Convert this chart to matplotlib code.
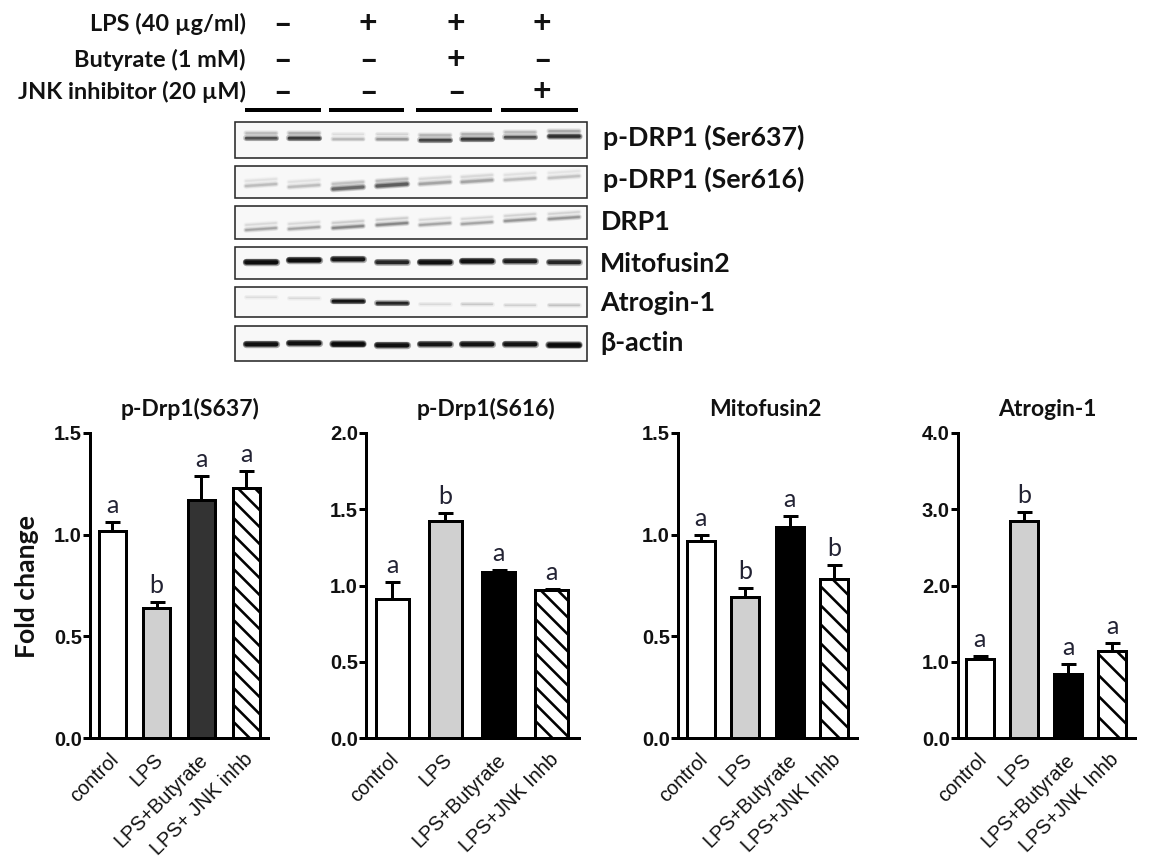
import matplotlib
matplotlib.use("Agg")
import matplotlib.pyplot as plt
from matplotlib.patches import Rectangle
from matplotlib.transforms import IdentityTransform, ScaledTranslation

W, H = 1155, 859
LABEL_FONT = "Lato"
TICK_FONT = "Liberation Sans"

# treatment table on top of the blots
treatments = ["LPS (40 µg/ml)", "Butyrate (1 mM)", "JNK inhibitor (20 µM)"]
lps_signs = ["–", "+", "+", "+"]
butyrate_signs = ["–", "–", "+", "–"]
jnk_signs = ["–", "–", "–", "+"]

# blots: band strength (0-1) and band height in the picture, per lane
blot_names = ["p-DRP1 (Ser637)", "p-DRP1 (Ser616)", "DRP1", "Mitofusin2", "Atrogin-1", "β-actin"]
ser637_bands = [0.60, 0.70, 0.25, 0.35, 0.65, 0.70, 0.60, 0.75]
ser616_bands = [0.22, 0.22, 0.50, 0.55, 0.30, 0.30, 0.22, 0.20]
drp1_bands = [0.30, 0.30, 0.40, 0.40, 0.30, 0.30, 0.35, 0.35]
mfn2_bands = [0.97, 0.97, 0.90, 0.80, 0.95, 0.95, 0.85, 0.80]
atrogin_bands = [0.10, 0.12, 0.90, 0.80, 0.12, 0.18, 0.15, 0.20]
actin_bands = [0.95, 0.95, 1.00, 0.95, 0.90, 0.92, 0.92, 1.00]
ser637_y = [138, 138, 139, 139, 140, 139, 137, 136]
ser616_y = [185, 186, 188, 185, 183, 181, 179, 177]
drp1_y = [229, 228, 227, 224, 224, 223, 220, 218]
mfn2_y = [262, 260, 259, 262, 262, 261, 261, 262]
atrogin_y = [297, 298, 301, 303, 304, 304, 305, 305]
actin_y = [344, 343, 344, 345, 344, 344, 344, 345]

# bar charts
groups = ["control", "LPS", "LPS+Butyrate", "LPS+ JNK inhb"]
groups_alt = ["control", "LPS", "LPS+Butyrate", "LPS+JNK Inhb"]

s637_vals = [1.02, 0.64, 1.17, 1.23]
s637_err = [0.04, 0.03, 0.12, 0.085]
s637_sig = ["a", "b", "a", "a"]

s616_vals = [0.91, 1.425, 1.09, 0.97]
s616_err = [0.115, 0.05, 0.01, 0.01]
s616_sig = ["a", "b", "a", "a"]

mfn2_vals = [0.97, 0.695, 1.04, 0.78]
mfn2_err = [0.03, 0.045, 0.05, 0.07]
mfn2_sig = ["a", "b", "a", "b"]

atrogin_vals = [1.035, 2.84, 0.84, 1.14]
atrogin_err = [0.04, 0.12, 0.13, 0.11]
atrogin_sig = ["a", "b", "a", "a"]

s637_ticks = [0.0, 0.5, 1.0, 1.5]
s616_ticks = [0.0, 0.5, 1.0, 1.5, 2.0]
mfn2_ticks = [0.0, 0.5, 1.0, 1.5]
atrogin_ticks = [0.0, 1.0, 2.0, 3.0, 4.0]


def px(v):
    # pixels to points at dpi 100
    return v * 0.72


def drawTable(ax):
    rows = [lps_signs, butyrate_signs, jnk_signs]
    row_y = [24, 60, 92]
    sign_x = [283, 368, 456, 542]
    for name, signs, y in zip(treatments, rows, row_y):
        ax.text(246, y, name, ha="right", va="center", fontsize=16.9,
                fontfamily=LABEL_FONT, fontweight="bold", color="#111111")
        for x, s in zip(sign_x, signs):
            ax.text(x, y, s, ha="center", va="center", fontsize=23,
                    fontfamily=LABEL_FONT, fontweight="bold", color="#111111")
    for x0, x1 in [(245, 321), (329, 404), (416, 492), (501, 578)]:
        ax.plot([x0, x1], [110, 110], color="black", lw=px(4), solid_capstyle="butt")


def drawBand(ax, lane, y, tilt, s, thick):
    # stacked strokes give the soft edge of a film band
    k = 0.8 + s
    for grow, a in [(4, 0.2), (2.5, 0.25), (1, 0.3), (0, 0.4)]:
        ax.plot([lane - 15, lane + 15], [y - tilt, y + tilt], color="black",
                alpha=min(1, a * s * k), lw=px(thick * (0.35 + 0.65 * s) + grow),
                solid_capstyle="round", zorder=2)


def drawBlots(ax):
    lanes = [261, 304, 348, 392, 435, 477, 520, 564]
    boxes = [(122, 158), (166, 198), (206, 239), (247, 279), (287, 317), (326, 361)]
    strengths = [ser637_bands, ser616_bands, drp1_bands, mfn2_bands, atrogin_bands, actin_bands]
    band_y = [ser637_y, ser616_y, drp1_y, mfn2_y, atrogin_y, actin_y]
    thick = [3, 4, 3, 3.5, 2.5, 3.5]
    tilt = [0, -1, -1, 0, 0, 0]
    doublet = [True, True, True, False, False, False]
    label_x = [603, 603, 601, 600, 600, 600]
    label_y = [137, 179, 222, 264, 303, 343]

    for i, name in enumerate(blot_names):
        y0, y1 = boxes[i]
        ax.add_patch(Rectangle((235, y0), 352, y1 - y0, facecolor="#f8f8f8",
                               edgecolor="#2a2a2a", lw=px(1.6), zorder=1))
        for lane, s, y in zip(lanes, strengths[i], band_y[i]):
            drawBand(ax, lane, y, tilt[i], s, thick[i])
            if doublet[i]:
                drawBand(ax, lane, y - 5, tilt[i], s * 0.4, thick[i])
        ax.text(label_x[i], label_y[i], name, ha="left", va="center", fontsize=19.3,
                fontfamily=LABEL_FONT, fontweight="bold", color="#111111")


def plotBars(fig, rect, title, title_x, vals, errs, sig, names, ticks, dark, outer, spacing, first, step):
    # rect is y axis x, right end of x axis, in pixels
    x0, x1 = rect
    top, base = 433, 738
    ax = fig.add_axes([x0 / W, 1 - base / H, (x1 - x0) / W, (base - top) / H])
    ax.patch.set_alpha(0)
    pos = list(range(len(vals)))
    left = -(first - x0) / spacing
    ax.set_xlim(left, left + (x1 - x0) / spacing)
    ax.set_ylim(ticks[0], ticks[-1])

    fills = ["white", "#d0d0d0", dark, "white"]
    bars = ax.bar(pos, vals, width=(outer - 3) / spacing, color=fills, edgecolor="black",
                  linewidth=px(3), zorder=2)
    ax.errorbar(pos, vals, yerr=[[0] * len(errs), errs], fmt="none", ecolor="black",
                elinewidth=px(3), capsize=px(7.5), capthick=px(3), zorder=1)

    ax.spines["top"].set_visible(False)
    ax.spines["right"].set_visible(False)
    ax.spines["left"].set_linewidth(px(3))
    ax.spines["bottom"].set_linewidth(px(3))
    ax.set_yticks(ticks)
    ax.set_yticklabels(["%.1f" % t for t in ticks], fontfamily=TICK_FONT, fontweight="bold",
                       fontsize=14.5, color="#111111")
    ax.tick_params(axis="y", length=px(7), width=px(3), pad=px(1))
    ax.set_xticks(pos)
    ax.set_xticklabels(names, rotation=45, ha="right", va="top", rotation_mode="anchor",
                       fontfamily=TICK_FONT, fontsize=14.3, color="#111111")
    ax.tick_params(axis="x", length=0, pad=px(12))
    shift = ScaledTranslation(-3 / 100, 0, fig.dpi_scale_trans)
    for lab in ax.get_xticklabels():
        lab.set_transform(lab.get_transform() + shift)

    for p, v, e, s in zip(pos, vals, errs, sig):
        ax.annotate(s, (p, v + e), xytext=(0, px(9)), textcoords="offset points", ha="center",
                    va="baseline", fontsize=18, fontfamily=LABEL_FONT, color="#222233")

    fig.canvas.draw()
    # wide diagonal hatch on the last bar, clipped to it
    box = bars[3].get_window_extent()
    n = int((box.width + box.height) / step) + 2
    for k in range(n):
        xs = box.x0 + k * step
        hatch_line, = ax.plot([xs - box.height, xs], [box.y1, box.y0], color="black", lw=px(2.6),
                              transform=IdentityTransform(), zorder=3)
        hatch_line.set_clip_path(bars[3])

    ax.text((title_x - x0) / (x1 - x0), (base - 409) / (base - top), title, transform=ax.transAxes,
            ha="center", va="center", fontsize=16.5, fontfamily=LABEL_FONT, fontweight="bold",
            color="#111111")
    return ax


if __name__ == "__main__":
    fig = plt.figure(figsize=(W / 100, H / 100), dpi=100)

    top = fig.add_axes([0, 0, 1, 1])
    top.set_xlim(0, W)
    top.set_ylim(H, 0)
    top.axis("off")
    drawTable(top)
    drawBlots(top)
    top.text(27, 587, "Fold change", rotation=90, ha="center", va="center", fontsize=19.2,
             fontfamily=LABEL_FONT, fontweight="bold", color="#111111")

    plotBars(fig, (90, 268), "p-Drp1(S637)", 190, s637_vals, s637_err, s637_sig, groups,
             s637_ticks, "#333333", 30, 44.7, 112, 17)
    plotBars(fig, (366, 579), "p-Drp1(S616)", 486, s616_vals, s616_err, s616_sig, groups_alt,
             s616_ticks, "black", 36, 53.3, 392, 17)
    plotBars(fig, (678, 857), "Mitofusin2", 765, mfn2_vals, mfn2_err, mfn2_sig, groups_alt,
             mfn2_ticks, "black", 31, 44.6, 700.5, 19)
    plotBars(fig, (958, 1135), "Atrogin-1", 1047, atrogin_vals, atrogin_err, atrogin_sig, groups_alt,
             atrogin_ticks, "black", 31, 44.3, 979.5, 21)

    plt.savefig("out.png", dpi=100)
